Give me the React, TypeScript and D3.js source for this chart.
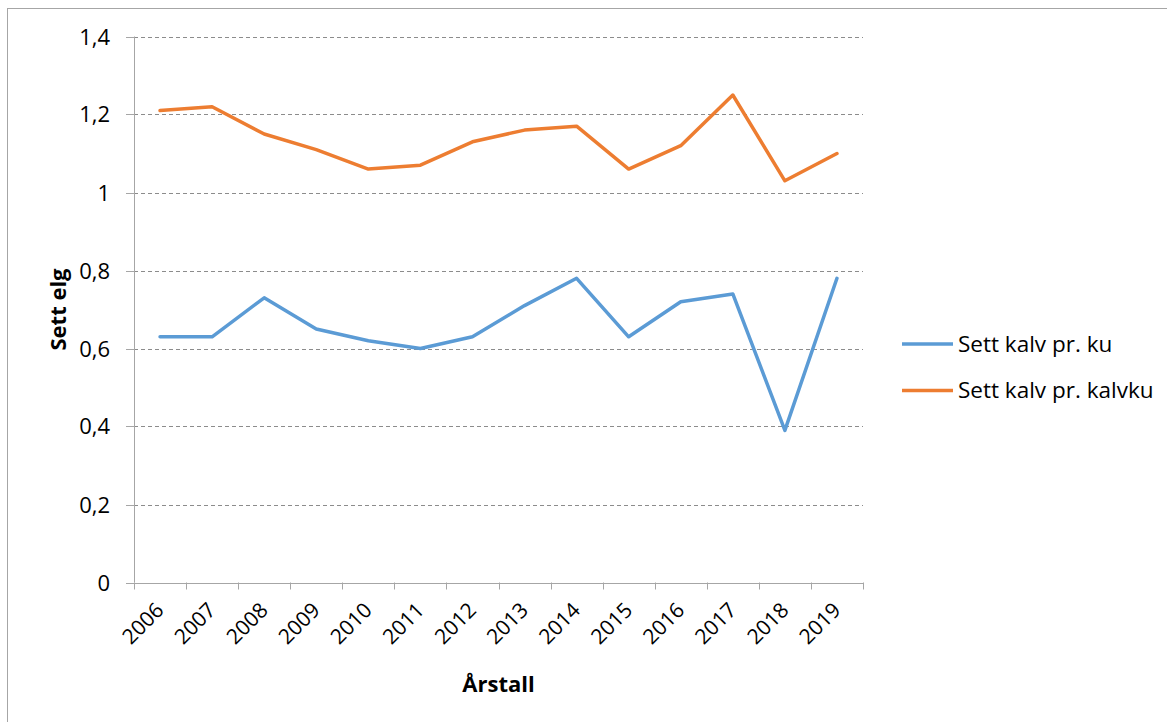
import React from "react";
import * as d3 from "d3";

const years = ["2006", "2007", "2008", "2009", "2010", "2011", "2012", "2013", "2014", "2015", "2016", "2017", "2018", "2019"];
const kalvPrKu = [0.63, 0.63, 0.73, 0.65, 0.62, 0.6, 0.63, 0.71, 0.78, 0.63, 0.72, 0.74, 0.39, 0.78];
const kalvPrKalvku = [1.21, 1.22, 1.15, 1.11, 1.06, 1.07, 1.13, 1.16, 1.17, 1.06, 1.12, 1.25, 1.03, 1.1];
const yTicks = [0, 0.2, 0.4, 0.6, 0.8, 1, 1.2, 1.4];

const series = [
  { name: "Sett kalv pr. ku", values: kalvPrKu, color: "#5B9BD5" },
  { name: "Sett kalv pr. kalvku", values: kalvPrKalvku, color: "#ED7D31" },
];

const W = 1167,
  H = 722;
const plot = { left: 134, right: 863, top: 36.5, bottom: 582.5 };
const FONT = "'Open Sans', 'Noto Sans', sans-serif";

export default function App() {
  const x = d3.scaleBand().domain(years).range([plot.left, plot.right]);
  const y = d3.scaleLinear().domain([0, 1.4]).range([plot.bottom, plot.top]);
  const cx = (yr: string) => (x(yr) as number) + x.bandwidth() / 2;

  const line = d3
    .line<number>()
    .x((_, i) => cx(years[i]))
    .y((d) => y(d));

  const fmt = (v: number) => String(+v.toFixed(1)).replace(".", ",");
  const axisColor = "#A6A6A6";

  return (
    <svg
      width={W}
      height={H}
      style={{ position: "absolute", left: 0, top: 0, background: "#fff" }}
      fontFamily={FONT}
    >
      <rect x={7.5} y={8.5} width={W + 20} height={H + 20} fill="#fff" stroke="#A6A6A6" strokeWidth={1} />

      {/* grid */}
      {yTicks
        .filter((t) => t > 0)
        .map((t) => (
          <line
            key={"g" + t}
            x1={plot.left}
            x2={plot.right}
            y1={Math.round(y(t)) + 0.5}
            y2={Math.round(y(t)) + 0.5}
            stroke="#8C8C8C"
            strokeDasharray="4,3"
          />
        ))}

      {/* y axis */}
      <line x1={plot.left + 0.5} x2={plot.left + 0.5} y1={plot.top} y2={plot.bottom} stroke={axisColor} />
      {yTicks.map((t) => (
        <g key={"y" + t} transform={`translate(0,${Math.round(y(t)) + 0.5})`}>
          <line x1={plot.left - 8} x2={plot.left} stroke={axisColor} />
          <text x={110} dy="0.35em" textAnchor="end" fontSize={22} fill="#000">
            {fmt(t)}
          </text>
        </g>
      ))}

      {/* x axis */}
      <line x1={plot.left} x2={plot.right} y1={Math.round(plot.bottom) + 0.5} y2={Math.round(plot.bottom) + 0.5} stroke={axisColor} />
      {years.concat(["end"]).map((yr, i) => {
        const xx = Math.round(plot.left + i * x.bandwidth()) + 0.5;
        return <line key={"xt" + i} x1={xx} x2={xx} y1={plot.bottom} y2={plot.bottom + 7} stroke={axisColor} />;
      })}
      {years.map((yr) => (
        <text
          key={"xl" + yr}
          transform={`translate(${cx(yr) + 5},${plot.bottom + 29}) rotate(-45)`}
          textAnchor="end"
          fontSize={21}
          fill="#000"
        >
          {yr}
        </text>
      ))}

      {/* lines */}
      {series.map((s) => (
        <path
          key={s.name}
          d={line(s.values) || ""}
          fill="none"
          stroke={s.color}
          strokeWidth={3.5}
          strokeLinejoin="round"
          strokeLinecap="round"
        />
      ))}

      {/* axis titles */}
      <text x={(plot.left + plot.right) / 2} y={692} textAnchor="middle" fontSize={22} fontWeight="bold" fill="#000">
        Årstall
      </text>
      <text
        transform={`translate(66,${(plot.top + plot.bottom) / 2}) rotate(-90)`}
        textAnchor="middle"
        fontSize={22}
        fontWeight="bold"
        fill="#000"
      >
        Sett elg
      </text>

      {/* legend */}
      {series.map((s, i) => (
        <g key={"l" + s.name} transform={`translate(902,${344 + i * 46.5})`}>
          <line x1={0} x2={51} stroke={s.color} strokeWidth={3.5} />
          <text x={56} dy="0.35em" fontSize={22.5} fill="#000">
            {s.name}
          </text>
        </g>
      ))}
    </svg>
  );
}
